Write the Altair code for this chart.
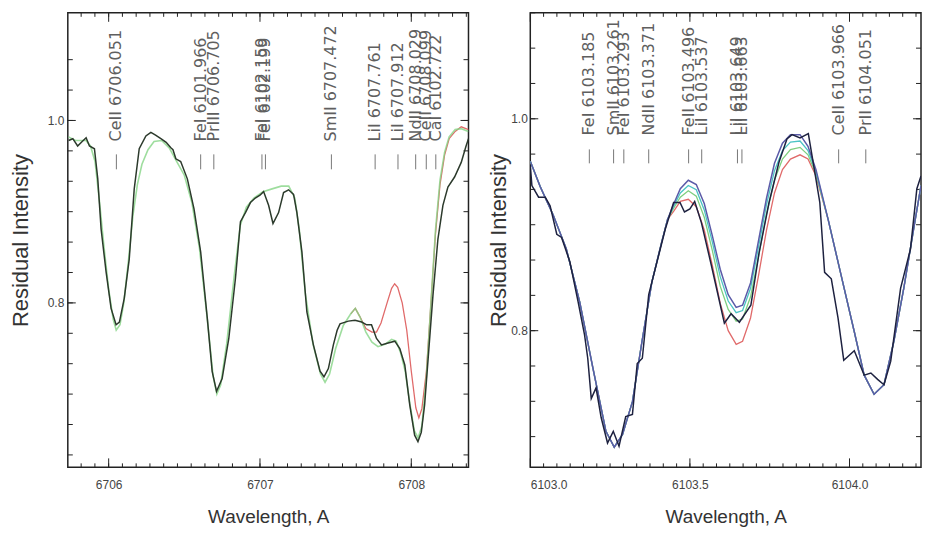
import altair as alt
import pandas as pd

# ---------------- Left panel (Li 6708 region) ----------------
L_XDOM = [6705.730, 6708.378]
L_YDOM = [0.6197, 1.118]

l_obs_wl = [6705.735, 6705.763, 6705.795, 6705.825, 6705.851, 6705.873, 6705.906, 6705.928, 6705.950,
            6705.983, 6706.016, 6706.049, 6706.071, 6706.103, 6706.136, 6706.169, 6706.202, 6706.246,
            6706.279, 6706.310, 6706.345, 6706.380, 6706.411, 6706.425, 6706.444, 6706.476, 6706.520,
            6706.564, 6706.608, 6706.652, 6706.684, 6706.713, 6706.750, 6706.794, 6706.838, 6706.871,
            6706.904, 6706.937, 6706.969, 6707.000, 6707.024, 6707.057, 6707.086, 6707.123, 6707.156,
            6707.189, 6707.222, 6707.244, 6707.277, 6707.310, 6707.353, 6707.397, 6707.423, 6707.452,
            6707.485, 6707.510, 6707.529, 6707.584, 6707.628, 6707.672, 6707.705, 6707.737, 6707.770,
            6707.803, 6707.847, 6707.891, 6707.924, 6707.957, 6707.990, 6708.022, 6708.044, 6708.066,
            6708.088, 6708.110, 6708.143, 6708.176, 6708.209, 6708.242, 6708.286, 6708.330, 6708.362,
            6708.378]
l_obs_I = [0.978, 0.980, 0.972, 0.977, 0.981, 0.972, 0.969, 0.936, 0.881,
           0.834, 0.794, 0.776, 0.779, 0.805, 0.848, 0.925, 0.969, 0.983,
           0.987, 0.984, 0.980, 0.976, 0.970, 0.968, 0.958, 0.955, 0.936,
           0.903, 0.856, 0.783, 0.725, 0.703, 0.717, 0.761, 0.827, 0.889,
           0.899, 0.910, 0.915, 0.918, 0.922, 0.907, 0.887, 0.899, 0.921,
           0.924, 0.919, 0.899, 0.856, 0.790, 0.754, 0.725, 0.719, 0.728,
           0.754, 0.770, 0.777, 0.780, 0.781, 0.779, 0.776, 0.776, 0.761,
           0.754, 0.756, 0.758, 0.750, 0.732, 0.688, 0.655, 0.648, 0.658,
           0.688, 0.736, 0.808, 0.870, 0.907, 0.927, 0.938, 0.954, 0.972,
           0.980]

l_green_wl = [6705.735, 6705.780, 6705.850, 6705.880, 6705.910, 6705.940, 6705.970, 6706.000, 6706.030,
              6706.050, 6706.075, 6706.100, 6706.130, 6706.160, 6706.190, 6706.220, 6706.260, 6706.300,
              6706.350, 6706.400, 6706.450, 6706.500, 6706.550, 6706.600, 6706.650, 6706.690, 6706.715,
              6706.740, 6706.780, 6706.830, 6706.870, 6706.910, 6706.960, 6707.020, 6707.080, 6707.140,
              6707.190, 6707.230, 6707.260, 6707.300, 6707.350, 6707.400, 6707.430, 6707.460, 6707.500,
              6707.550, 6707.600, 6707.630, 6707.660, 6707.700, 6707.740, 6707.780, 6707.830, 6707.870,
              6707.900, 6707.930, 6707.960, 6707.990, 6708.020, 6708.045, 6708.070, 6708.100, 6708.130,
              6708.160, 6708.190, 6708.220, 6708.250, 6708.290, 6708.330, 6708.378]
l_green_I = [0.982, 0.978, 0.978, 0.972, 0.955, 0.910, 0.860, 0.815, 0.782,
             0.770, 0.776, 0.800, 0.845, 0.895, 0.930, 0.952, 0.968, 0.977,
             0.978, 0.970, 0.955, 0.940, 0.910, 0.860, 0.785, 0.720, 0.700,
             0.710, 0.755, 0.830, 0.885, 0.905, 0.915, 0.922, 0.925, 0.928,
             0.928, 0.915, 0.880, 0.810, 0.755, 0.722, 0.713, 0.722, 0.750,
             0.775, 0.788, 0.794, 0.785, 0.768, 0.757, 0.752, 0.755, 0.760,
             0.758, 0.745, 0.725, 0.690, 0.660, 0.652, 0.665, 0.720, 0.800,
             0.880, 0.935, 0.965, 0.982, 0.990, 0.991, 0.988]

l_red_wl = [6707.600, 6707.630, 6707.660, 6707.700, 6707.740, 6707.770, 6707.800, 6707.840, 6707.870,
            6707.890, 6707.910, 6707.940, 6707.970, 6708.000, 6708.030, 6708.050, 6708.070, 6708.100,
            6708.130, 6708.160, 6708.190, 6708.220, 6708.250, 6708.290, 6708.330, 6708.378]
l_red_I = [0.788, 0.794, 0.785, 0.772, 0.768, 0.768, 0.778, 0.800, 0.816,
           0.821, 0.817, 0.800, 0.770, 0.725, 0.685, 0.674, 0.684, 0.725,
           0.800, 0.876, 0.930, 0.962, 0.980, 0.988, 0.993, 0.990]

l_line_wl = [6706.051, 6706.608, 6706.695, 6707.013, 6707.036, 6707.472, 6707.761, 6707.912,
             6708.029, 6708.099, 6708.162]
l_line_txt = ["CeII 6706.051", "FeI 6101.966", "PrIII 6706.705", "FeI 6102.159", "FeI 6102.199",
              "SmII 6707.472", "LiI 6707.761", "LiI 6707.912", "NdII 6708.029", "CeII 6708.099",
              "CaI 6102.722"]

l_xlabels = [6706, 6707, 6708]
l_ylabels = [0.8, 1.0]
l_xminor = [6705 + k / 11 for k in range(9, 38)]
l_yminor = [0.6 + k * 0.2 / 6 for k in range(1, 15)]

# ---------------- Right panel (Li 6103 region) ----------------
R_XDOM = [6103.0, 6104.224]
R_YDOM = [0.671, 1.100]

r_obs_wl = [6103.000, 6103.005, 6103.026, 6103.047, 6103.062, 6103.083, 6103.098, 6103.124, 6103.150,
            6103.170, 6103.180, 6103.191, 6103.206, 6103.222, 6103.242, 6103.260, 6103.278, 6103.299,
            6103.320, 6103.335, 6103.351, 6103.371, 6103.397, 6103.423, 6103.449, 6103.469, 6103.483,
            6103.500, 6103.515, 6103.536, 6103.567, 6103.608, 6103.629, 6103.655, 6103.691, 6103.717,
            6103.748, 6103.779, 6103.804, 6103.820, 6103.845, 6103.871, 6103.886, 6103.907, 6103.922,
            6103.943, 6103.964, 6103.982, 6104.015, 6104.046, 6104.067, 6104.088, 6104.108, 6104.129,
            6104.160, 6104.191, 6104.211, 6104.224]
r_obs_I = [0.956, 0.937, 0.926, 0.926, 0.918, 0.891, 0.888, 0.865, 0.827,
           0.796, 0.774, 0.736, 0.746, 0.718, 0.694, 0.705, 0.691, 0.719,
           0.721, 0.769, 0.774, 0.834, 0.865, 0.896, 0.921, 0.921, 0.912,
           0.915, 0.922, 0.902, 0.862, 0.807, 0.816, 0.808, 0.824, 0.874,
           0.921, 0.959, 0.981, 0.985, 0.982, 0.986, 0.959, 0.921, 0.855,
           0.849, 0.812, 0.772, 0.781, 0.758, 0.760, 0.754, 0.749, 0.771,
           0.840, 0.877, 0.934, 0.946]

# synthetic spectra: common wings + individual cores
r_wingL_wl = [6103.000, 6103.031, 6103.072, 6103.113, 6103.155, 6103.196, 6103.237, 6103.263,
              6103.289, 6103.320, 6103.350, 6103.381, 6103.412, 6103.430]
r_wingL_I = [0.960, 0.936, 0.909, 0.877, 0.827, 0.765, 0.705, 0.690,
             0.702, 0.733, 0.790, 0.846, 0.884, 0.905]
r_wingR_wl = [6103.933, 6103.974, 6104.015, 6104.046, 6104.077, 6104.108, 6104.139, 6104.170,
              6104.201, 6104.224]
r_wingR_I = [0.905, 0.852, 0.799, 0.758, 0.740, 0.749, 0.790, 0.840, 0.896, 0.937]

r_core_wl = [6103.450, 6103.470, 6103.495, 6103.520, 6103.545, 6103.570, 6103.595, 6103.620,
             6103.645, 6103.665, 6103.690, 6103.715, 6103.740, 6103.765, 6103.790, 6103.815,
             6103.845, 6103.870, 6103.895]
r_blue_core = [0.920, 0.934, 0.942, 0.938, 0.920, 0.890, 0.858, 0.834, 0.822, 0.824, 0.845, 0.885,
               0.925, 0.958, 0.977, 0.985, 0.985, 0.974, 0.952]
r_cyan_core = [0.918, 0.930, 0.937, 0.933, 0.914, 0.884, 0.851, 0.828, 0.817, 0.819, 0.840, 0.879,
               0.919, 0.951, 0.970, 0.978, 0.979, 0.970, 0.950]
r_green_core = [0.916, 0.926, 0.932, 0.927, 0.907, 0.876, 0.842, 0.820, 0.809, 0.811, 0.832, 0.870,
                0.910, 0.942, 0.962, 0.971, 0.973, 0.966, 0.948]
r_red_core = [0.913, 0.922, 0.924, 0.917, 0.895, 0.862, 0.826, 0.800, 0.787, 0.790, 0.812, 0.852,
              0.895, 0.930, 0.952, 0.962, 0.966, 0.962, 0.946]

r_line_wl = [6103.185, 6103.261, 6103.293, 6103.371, 6103.496, 6103.537, 6103.649, 6103.663,
             6103.966, 6104.051]
r_line_txt = ["FeI 6103.185", "SmII 6103.261", "FeI 6103.293", "NdII 6103.371", "FeII 6103.496",
              "LiI 6103.537", "LiI 6103.649", "LiI 6103.663", "CeII 6103.966", "PrII 6104.051"]

r_xlabels = [6103.0, 6103.5, 6104.0]
r_ylabels = [0.8, 1.0]
r_xminor = [6103.0 + k / 24 for k in range(1, 30)]
r_yminor = [0.6 + k * 0.2 / 6 for k in range(3, 16)]

FONT = "Liberation Sans"
FRAME = "#222222"


def panel(W, H, xdom, ydom, xlabels, xfmt, ylabels, xminor, yminor, curves, lines_wl, lines_txt,
          text_y, tick_y, ytitle_pad, ylabel_pad):
    xs = alt.Scale(domain=xdom, nice=False, zero=False)
    ys = alt.Scale(domain=ydom, nice=False, zero=False)
    xaxis = alt.Axis(values=xlabels, format=xfmt, title="Wavelength, A", labelPadding=12,
                     titlePadding=17, titleFontSize=19, labelFontSize=12)
    yaxis = alt.Axis(values=ylabels, format=".1f", title="Residual Intensity",
                     labelPadding=ylabel_pad, titlePadding=ytitle_pad, titleFontSize=22,
                     labelFontSize=12)
    X = lambda f: alt.X(f, type="quantitative", scale=xs, axis=xaxis, title="Wavelength, A")
    Y = lambda f: alt.Y(f, type="quantitative", scale=ys, axis=yaxis, title="Residual Intensity")
    layers = []
    # inward frame ticks
    xmajor = [v for v in xlabels]
    ymajor = [v for v in ylabels]
    for vals, ln in [(xminor, 4), (xmajor, 9)]:
        d = pd.DataFrame({"v": vals})
        b = alt.Chart(d).mark_rule(color=FRAME, strokeWidth=1)
        layers.append(b.encode(x=X("v"), y=alt.value(H), y2=alt.value(H - ln)))
        layers.append(b.encode(x=X("v"), y=alt.value(0), y2=alt.value(ln)))
    for vals, ln in [(yminor, 5), (ymajor, 8)]:
        d = pd.DataFrame({"v": vals})
        b = alt.Chart(d).mark_rule(color=FRAME, strokeWidth=1)
        layers.append(b.encode(y=Y("v"), x=alt.value(0), x2=alt.value(ln)))
        layers.append(b.encode(y=Y("v"), x=alt.value(W), x2=alt.value(W - ln)))
    # curves
    for wl, inten, color, sw, op in curves:
        d = pd.DataFrame({"wl": wl, "I": inten})
        layers.append(alt.Chart(d).mark_line(color=color, strokeWidth=sw, opacity=op, clip=True)
                      .encode(x=X("wl"), y=Y("I")))
    # line identification marks
    d = pd.DataFrame({"wl": lines_wl, "txt": lines_txt})
    layers.append(alt.Chart(d).mark_rule(color="#777777", strokeWidth=1)
                  .encode(x=X("wl"), y=alt.value(tick_y[0]), y2=alt.value(tick_y[1])))
    layers.append(alt.Chart(d).mark_text(angle=270, align="left", baseline="middle",
                                         font="DejaVu Sans", fontSize=16, color="#5f5f5f")
                  .encode(x=X("wl"), y=alt.value(text_y), text="txt:N"))
    return alt.layer(*layers).properties(width=W, height=H)


left_curves = [
    (l_red_wl, l_red_I, "#e06a6a", 1.3, 1.0),
    (l_green_wl, l_green_I, "#86d486", 1.6, 0.8),
    (l_obs_wl, l_obs_I, "#2c3a2c", 1.5, 1.0),
]

r_syn_wl = r_wingL_wl + r_core_wl + r_wingR_wl
right_curves = [
    (r_syn_wl, r_wingL_I + r_red_core + r_wingR_I, "#e06a6a", 1.3, 1.0),
    (r_syn_wl, r_wingL_I + r_green_core + r_wingR_I, "#7fcf7f", 1.3, 1.0),
    (r_syn_wl, r_wingL_I + r_cyan_core + r_wingR_I, "#4cc4c4", 1.3, 1.0),
    (r_syn_wl, r_wingL_I + r_blue_core + r_wingR_I, "#5b5ba8", 1.5, 1.0),
    (r_obs_wl, r_obs_I, "#1e2240", 1.5, 1.0),
]

left = panel(402, 456, L_XDOM, L_YDOM, l_xlabels, ".0f", l_ylabels, l_xminor, l_yminor,
             left_curves, l_line_wl, l_line_txt, 129, (142, 157), 15, 4)
right = panel(392, 456, R_XDOM, R_YDOM, r_xlabels, ".1f", r_ylabels, r_xminor, r_yminor,
              right_curves, r_line_wl, r_line_txt, 123, (137, 151), 0, 3)

chart = (alt.hconcat(left, right, spacing=16)
         .properties(padding={"left": 0, "top": 2, "right": 0, "bottom": 0})
         .configure_view(stroke=FRAME, strokeWidth=1.5)
         .configure_axis(grid=False, domain=False, ticks=False, labelFont=FONT, titleFont=FONT,
                         labelColor="#444444", titleColor="#333333", titleFontWeight="normal"))

chart.save("out.html", embed_options={"renderer": "svg", "actions": False})
